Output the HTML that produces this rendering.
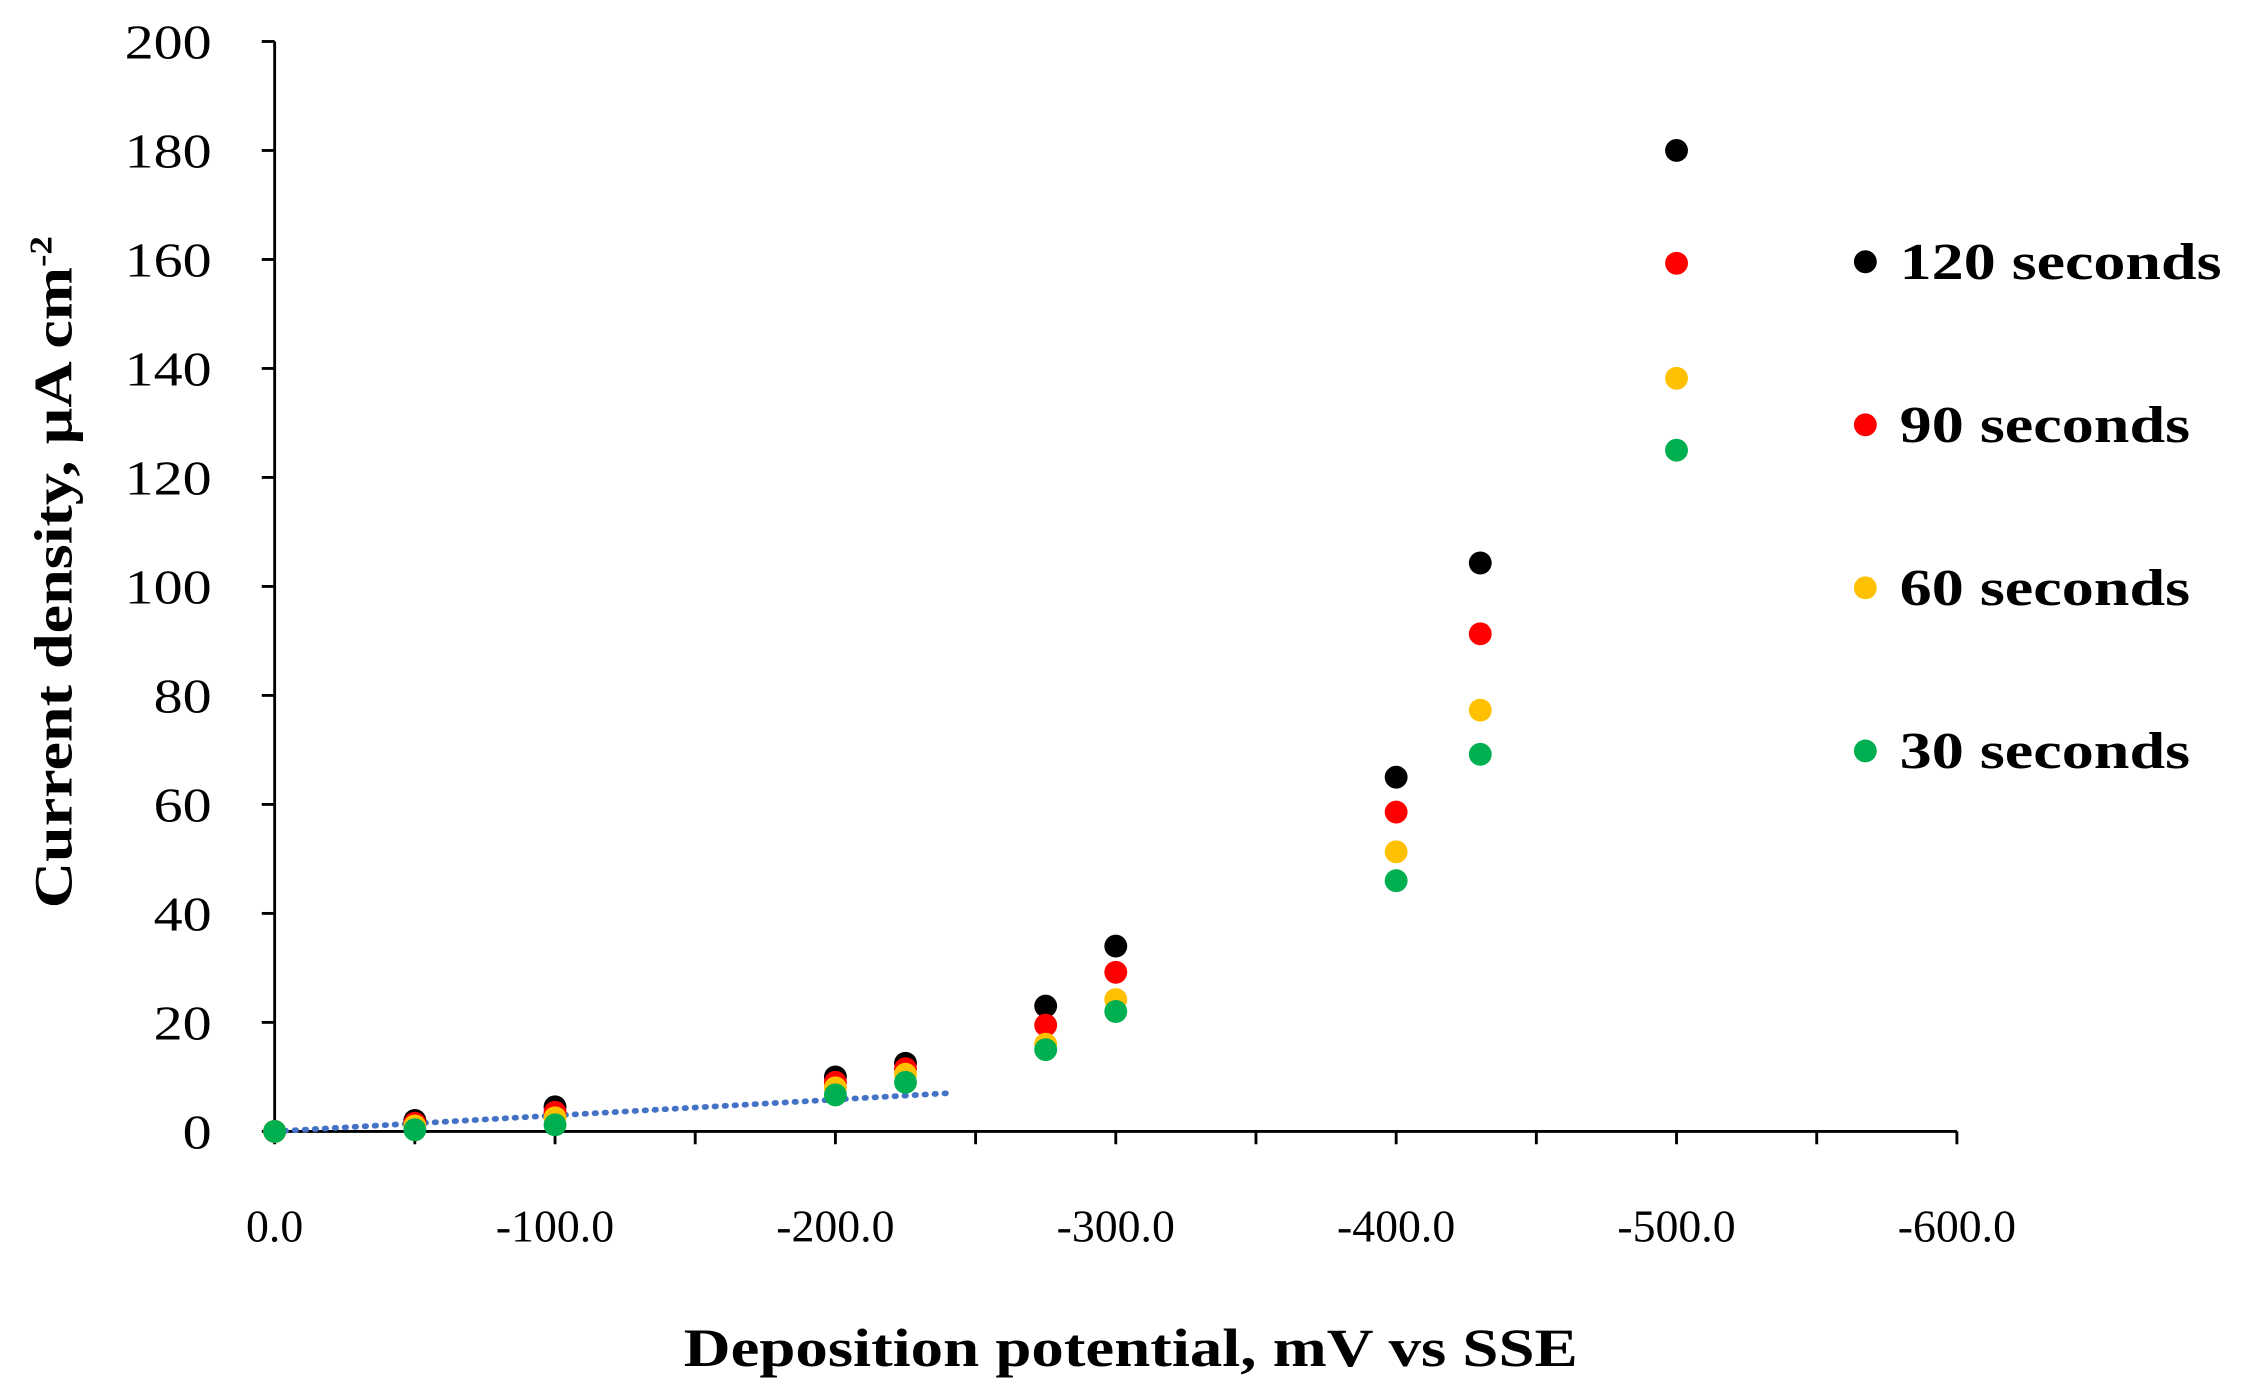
<!DOCTYPE html>
<html><head><meta charset="utf-8"><style>
html,body{margin:0;padding:0;background:#fff}
svg{display:block}
text{font-family:"Liberation Serif",serif;fill:#000}
</style></head><body>
<svg id="chart" width="2243" height="1396" viewBox="0 0 1568 976" preserveAspectRatio="none" xmlns="http://www.w3.org/2000/svg">
<g id="axes"></g><g id="marks"></g><g id="legend"></g>
<text x="478" y="955" font-size="38" font-weight="bold" textLength="625" lengthAdjust="spacingAndGlyphs">Deposition potential, mV vs SSE</text>
<text transform="translate(50,635) rotate(-90)" font-size="38" font-weight="bold" textLength="470" lengthAdjust="spacingAndGlyphs">Current density, µA cm<tspan font-size="22" dy="-14">-2</tspan></text>
</svg>
<script>
const potentials = [0, 50, 100, 200, 225, 275, 300, 400, 430, 500];
const s120 = [0, 2, 4.5, 10, 12.5, 23, 34, 65, 104.3, 180];
const s90 = [0, 1.5, 3.5, 9, 11.5, 19.5, 29.2, 58.6, 91.3, 159.3];
const s60 = [0, 1, 2.5, 8, 10.5, 16, 24.2, 51.3, 77.3, 138.2];
const s30 = [0, 0.3, 1.2, 6.7, 9, 15, 22, 46, 69.2, 125];
const seriesNames = ["120 seconds", "90 seconds", "60 seconds", "30 seconds"];
const seriesColors = ["#000000", "#ff0000", "#ffc000", "#00b050"];
const xTicks = [0, 100, 200, 300, 400, 500, 600];
const xTickLabels = ["0.0", "-100.0", "-200.0", "-300.0", "-400.0", "-500.0", "-600.0"];
const yTicks = [0, 20, 40, 60, 80, 100, 120, 140, 160, 180, 200];
const trendX = [0, 240];
const trendY = [0, 7];

const NS = "http://www.w3.org/2000/svg";
const xs = v => 192 + v * 1176 / 600;
const ys = v => 791 - v * 762 / 200;
function mk(parent, tag, attrs, text) {
  const e = document.createElementNS(NS, tag);
  for (const k in attrs) e.setAttribute(k, attrs[k]);
  if (text !== undefined) e.textContent = text;
  document.getElementById(parent).appendChild(e);
  return e;
}
let e;
e = mk("axes", "line", {x1: xs(0), y1: ys(0), x2: xs(600), y2: ys(0), stroke: "#000", "stroke-width": 2});


e = mk("axes", "line", {x1: xs(0), y1: ys(0), x2: xs(0), y2: ys(200), stroke: "#000", "stroke-width": 2});


for (let v = 0; v <= 600; v += 50) {
  e = mk("axes", "line", {x1: xs(v), y1: ys(0), x2: xs(v), y2: ys(0) + 9, stroke: "#000", "stroke-width": 2});
  
  
}
xTicks.forEach((v, i) => {
  e = mk("axes", "text", {x: xs(v), y: 868, "text-anchor": "middle", "font-size": 32}, xTickLabels[i]);
  
  
});
yTicks.forEach(v => {
  e = mk("axes", "line", {x1: xs(0) - 9, y1: ys(v), x2: xs(0), y2: ys(v), stroke: "#000", "stroke-width": 2});
  
  
  e = mk("axes", "text", {x: 148, y: ys(v) + 12, "text-anchor": "end", "font-size": 34, textLength: String(v).length * 20.3, lengthAdjust: "spacingAndGlyphs"}, String(v));
  
  
});
e = mk("marks", "line", {x1: xs(trendX[0]), y1: ys(trendY[0]), x2: xs(trendX[1]), y2: ys(trendY[1]), stroke: "#4472c4", "stroke-width": 4, "stroke-dasharray": "1 6", "stroke-linecap": "round"});


[s120, s90, s60, s30].forEach((s, si) => {
  s.forEach((v, i) => {
    e = mk("marks", "circle", {cx: xs(potentials[i]), cy: ys(v), r: 8, fill: seriesColors[si]});
    
    
  });
});
const legY = [183, 297, 411, 525];
const legW = [225, 203, 203, 203];
seriesNames.forEach((n, i) => {
  e = mk("legend", "circle", {cx: 1304, cy: legY[i], r: 8, fill: seriesColors[i]});
  
  
  e = mk("legend", "text", {x: 1328, y: legY[i] + 12, "font-size": 36, "font-weight": "bold", textLength: legW[i], lengthAdjust: "spacingAndGlyphs"}, n);
  
  
});
</script>
</body></html>
